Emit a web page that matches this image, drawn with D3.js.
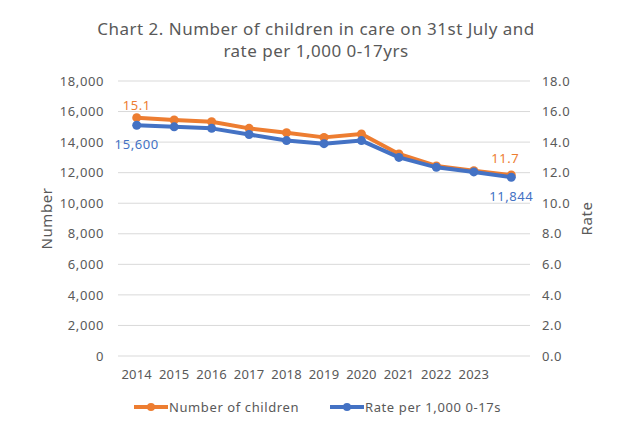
<!DOCTYPE html>
<html>
<head>
<meta charset="utf-8">
<script src="https://cdn.jsdelivr.net/npm/d3@7"></script>
<style>
  body { margin: 0; background: #fff; }
  text { font-family: "Noto Sans", "DejaVu Sans", sans-serif; fill: #595959; letter-spacing: 0.6px; }
</style>
</head>
<body>
<svg id="chart" width="631" height="437"></svg>
<script>
// categories (last point has no label on the axis)
var years = ["2014", "2015", "2016", "2017", "2018", "2019", "2020", "2021", "2022", "2023", ""];
// number of children in care
var numberChildren = [15600, 15450, 15330, 14900, 14610, 14310, 14530, 13220, 12440, 12130, 11844];
// rate per 1,000 0-17s
var ratePer1000 = [15.1, 15.0, 14.9, 14.5, 14.1, 13.9, 14.1, 13.0, 12.35, 12.05, 11.7];
var leftTicks = [0, 2000, 4000, 6000, 8000, 10000, 12000, 14000, 16000, 18000];
var rightTicks = [0, 2, 4, 6, 8, 10, 12, 14, 16, 18];

var orange = "#ED7D31", blue = "#4472C4";
var margin = {top: 81, right: 101, bottom: 81, left: 118},
    width = 631 - margin.left - margin.right,
    height = 437 - margin.top - margin.bottom;

var svg = d3.select("#chart");
var g = svg.append("g")
    .attr("transform", "translate(" + margin.left + "," + margin.top + ")");

// scales
var x = d3.scaleBand().domain(d3.range(years.length)).range([0, width]);
var yL = d3.scaleLinear().domain([0, 18000]).range([height, 0]);
var yR = d3.scaleLinear().domain([0, 18]).range([height, 0]);
var cx = function(i) { return x(i) + x.bandwidth() / 2; };

// gridlines
g.selectAll(".grid")
    .data(leftTicks)
  .enter().append("line")
    .attr("x1", 0).attr("x2", width)
    .attr("y1", function(d) { return yL(d); })
    .attr("y2", function(d) { return yL(d); })
    .attr("stroke", "#d9d9d9").attr("stroke-width", 1);

// left axis
var leftAxis = g.append("g")
    .attr("transform", "translate(-6,0)")
    .call(d3.axisLeft(yL).tickValues(leftTicks).tickSize(0).tickPadding(8).tickFormat(d3.format(",")));
leftAxis.select(".domain").remove();
leftAxis.selectAll("text").style("font-size", "13px").attr("fill", "#595959");

// right axis
var rightAxis = g.append("g")
    .attr("transform", "translate(" + (width + 4) + ",0)")
    .call(d3.axisRight(yR).tickValues(rightTicks).tickSize(0).tickPadding(8).tickFormat(d3.format(".1f")));
rightAxis.select(".domain").remove();
rightAxis.selectAll("text").style("font-size", "13px").attr("fill", "#595959");

// bottom axis
var bottomAxis = g.append("g")
    .attr("transform", "translate(0," + height + ")")
    .call(d3.axisBottom(x).tickSize(0).tickPadding(14).tickFormat(function(i) { return years[i]; }));
bottomAxis.select(".domain").remove();
bottomAxis.selectAll("text").style("font-size", "13px").style("letter-spacing", "0.2px").attr("fill", "#595959");

// lines
var lineL = d3.line().x(function(d, i) { return cx(i); }).y(function(d) { return yL(d); });
var lineR = d3.line().x(function(d, i) { return cx(i); }).y(function(d) { return yR(d); });

function drawSeries(data, line, scale, color) {
  g.append("path")
      .datum(data)
      .attr("fill", "none")
      .attr("stroke", color)
      .attr("stroke-width", 4)
      .attr("stroke-linejoin", "round")
      .attr("d", line);
  g.selectAll(null)
      .data(data)
    .enter().append("circle")
      .attr("cx", function(d, i) { return cx(i); })
      .attr("cy", function(d) { return scale(d); })
      .attr("r", 4.5)
      .attr("fill", color);
}
drawSeries(numberChildren, lineL, yL, orange);
drawSeries(ratePer1000, lineR, yR, blue);

// data labels (as in the original: rate label in orange above, number label in blue below)
var last = years.length - 1;
g.append("text").attr("x", cx(0)).attr("y", yL(numberChildren[0]) - 8)
    .attr("text-anchor", "middle").style("font-size", "13px").style("fill", orange)
    .text(d3.format(".1f")(ratePer1000[0]));
g.append("text").attr("x", cx(0)).attr("y", yR(ratePer1000[0]) + 24)
    .attr("text-anchor", "middle").style("font-size", "13px").style("fill", blue)
    .text(d3.format(",")(numberChildren[0]));
g.append("text").attr("x", cx(last) - 6).attr("y", yL(numberChildren[last]) - 12)
    .attr("text-anchor", "middle").style("font-size", "13px").style("fill", orange)
    .text(d3.format(".1f")(ratePer1000[last]));
g.append("text").attr("x", cx(last)).attr("y", yR(ratePer1000[last]) + 24)
    .attr("text-anchor", "middle").style("font-size", "13px").style("fill", blue)
    .text(d3.format(",")(numberChildren[last]));

// title (two separate lines)
svg.append("text").attr("x", 316).attr("y", 35)
    .attr("text-anchor", "middle").style("font-size", "17px").style("letter-spacing", "0.5px")
    .text("Chart 2. Number of children in care on 31st July and");
svg.append("text").attr("x", 316).attr("y", 57)
    .attr("text-anchor", "middle").style("font-size", "17px").style("letter-spacing", "0.5px")
    .text("rate per 1,000 0-17yrs");

// axis titles
svg.append("text")
    .attr("transform", "translate(52," + (margin.top + height / 2) + ") rotate(-90)")
    .attr("text-anchor", "middle").style("font-size", "15px").text("Number");
svg.append("text")
    .attr("transform", "translate(592," + (margin.top + height / 2) + ") rotate(-90)")
    .attr("text-anchor", "middle").style("font-size", "15px").text("Rate");

// legend
var legendItems = [
  {label: "Number of children", color: orange, x: 134},
  {label: "Rate per 1,000 0-17s", color: blue, x: 330}
];
var legend = svg.selectAll(".legend")
    .data(legendItems)
  .enter().append("g")
    .attr("transform", function(d) { return "translate(" + d.x + ",407)"; });
legend.append("line")
    .attr("x1", 0).attr("x2", 34)
    .attr("stroke", function(d) { return d.color; })
    .attr("stroke-width", 4);
legend.append("circle").attr("cx", 17).attr("r", 4)
    .attr("fill", function(d) { return d.color; });
legend.append("text").attr("x", 35).attr("y", 5)
    .style("font-size", "13px").text(function(d) { return d.label; });
</script>
</body>
</html>
